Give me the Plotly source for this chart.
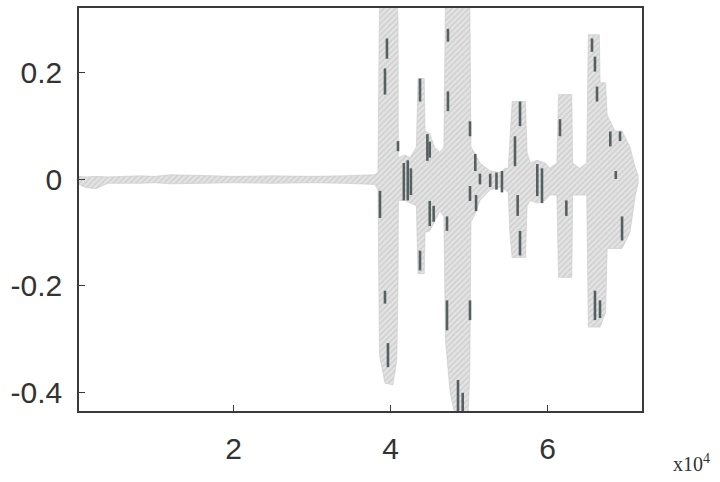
import plotly.graph_objects as go

# ---- data (x in units of 10^4 samples) ----
env_x = [0.03, 0.12, 0.25, 0.40, 0.80, 1.00, 1.20, 1.60, 2.00, 2.50, 3.00, 3.40, 3.60, 3.80, 3.84,
         3.86, 3.93, 4.03, 4.08, 4.096, 4.10,
         4.185, 4.25, 4.33, 4.35, 4.43, 4.44, 4.50, 4.56, 4.63, 4.68,
         4.70, 4.76, 4.82, 4.99, 5.01, 5.025,
         5.08, 5.14, 5.27, 5.40, 5.46, 5.50,
         5.52, 5.55, 5.72, 5.74, 5.78, 5.87, 5.97, 6.03, 6.12,
         6.14, 6.31, 6.32, 6.41, 6.50,
         6.52, 6.66, 6.67, 6.74, 6.76,
         6.86, 6.95, 7.05, 7.12, 7.16]
env_upper = [0.005, 0.004, 0.005, 0.004, 0.006, 0.005, 0.008, 0.007, 0.005, 0.006, 0.005, 0.006, 0.007, 0.008, 0.012,
             0.34, 0.34, 0.34, 0.34, 0.30, 0.04,
             0.045, 0.04, 0.06, 0.188, 0.188, 0.09, 0.085, 0.06, 0.05, 0.06,
             0.34, 0.34, 0.34, 0.34, 0.34, 0.06,
             0.047, 0.03, 0.015, 0.012, 0.02, 0.02,
             0.08, 0.145, 0.145, 0.05, 0.03, 0.035, 0.03, 0.02, 0.03,
             0.158, 0.158, 0.03, 0.02, 0.03,
             0.27, 0.27, 0.18, 0.18, 0.12,
             0.09, 0.09, 0.06, 0.02, 0.005]
env_lower = [-0.010, -0.016, -0.018, -0.008, -0.008, -0.007, -0.009, -0.008, -0.007, -0.008, -0.007, -0.008, -0.009, -0.010, -0.020,
             -0.33, -0.382, -0.385, -0.34, -0.20, -0.04,
             -0.04, -0.045, -0.05, -0.177, -0.177, -0.10, -0.097, -0.08, -0.06, -0.07,
             -0.30, -0.40, -0.44, -0.44, -0.36, -0.08,
             -0.065, -0.04, -0.02, -0.015, -0.02, -0.025,
             -0.10, -0.147, -0.147, -0.05, -0.04, -0.045, -0.04, -0.03, -0.03,
             -0.184, -0.184, -0.03, -0.03, -0.03,
             -0.277, -0.277, -0.277, -0.25, -0.13,
             -0.13, -0.13, -0.10, -0.03, -0.005]

# dark streaks inside the waveform: x, y from, y to
dark_x = [3.955, 3.93, 4.096, 3.866, 3.93, 3.968,
          4.17, 4.22, 4.26, 4.376, 4.47, 4.50, 4.50, 4.55, 4.376,
          4.732, 4.732, 4.72, 4.72, 5.013, 5.013, 5.013, 4.86, 4.92,
          5.08, 5.09, 5.14, 5.27, 5.35, 5.42,
          5.65, 5.586, 5.62, 5.65, 5.87, 5.93,
          6.159, 6.24,
          6.567, 6.605, 6.631, 6.605, 6.669,
          6.80, 6.924, 6.87, 6.95]
dark_y0 = [0.225, 0.158, 0.052, -0.073, -0.233, -0.352,
           -0.04, -0.04, -0.03, 0.145, 0.034, 0.04, -0.088, -0.08, -0.171,
           0.257, 0.127, -0.097, -0.283, 0.08, -0.041, -0.264, -0.434, -0.434,
           0.015, -0.06, -0.01, -0.015, -0.02, -0.025,
           0.099, 0.024, -0.069, -0.143, -0.032, -0.045,
           0.08, -0.069,
           0.238, 0.201, 0.145, -0.264, -0.26,
           0.061, 0.071, 0.0, -0.115]
dark_y1 = [0.263, 0.207, 0.071, -0.022, -0.209, -0.307,
           0.03, 0.035, 0.02, 0.188, 0.084, 0.07, -0.041, -0.05, -0.134,
           0.281, 0.164, -0.07, -0.227, 0.108, -0.013, -0.227, -0.376, -0.40,
           0.047, -0.03, 0.01, 0.01, 0.012, 0.015,
           0.145, 0.08, -0.03, -0.097, 0.028, 0.02,
           0.112, -0.04,
           0.263, 0.229, 0.173, -0.209, -0.227,
           0.089, 0.089, 0.015, -0.07]

x_tick_vals = [2, 4, 6]
x_tick_text = ["2", "4", "6"]
y_tick_vals = [-0.4, -0.2, 0, 0.2]
y_tick_text = ["-0.4", "-0.2", "0", "0.2"]

# ---- build segments for dark streaks ----
seg_x, seg_y = [], []
for x, a, b in zip(dark_x, dark_y0, dark_y1):
    seg_x += [x, x, None]
    seg_y += [a, b, None]

fig = go.Figure()
fig.add_trace(go.Scatter(x=env_x, y=env_lower, mode="lines",
                         line=dict(width=0, color="#cfcfcf"), showlegend=False,
                         hoverinfo="skip"))
fig.add_trace(go.Scatter(x=env_x, y=env_upper, mode="lines", fill="tonexty",
                         fillcolor="#d6d6d6",
                         fillpattern=dict(shape="/", fgcolor="#bcbcbc", bgcolor="#e4e4e4",
                                          size=4, solidity=0.45),
                         line=dict(width=0.6, color="#c8c8c8"), showlegend=False))
fig.add_trace(go.Scatter(x=env_x, y=env_lower, mode="lines",
                         line=dict(width=0.6, color="#c8c8c8"), showlegend=False))
fig.add_trace(go.Scatter(x=seg_x, y=seg_y, mode="lines",
                         line=dict(width=2.6, color="#566060"), showlegend=False))

axis_common = dict(showline=True, linecolor="#3a3a3a", linewidth=1.5, mirror=True,
                   ticks="inside", ticklen=6, tickcolor="#3a3a3a", showgrid=False,
                   zeroline=False,
                   tickfont=dict(family="Liberation Sans, Arial, sans-serif", size=30,
                                 color="#333333"))

fig.update_layout(
    width=720, height=482,
    margin=dict(l=79, r=78, t=6, b=71),
    paper_bgcolor="white", plot_bgcolor="white",
    xaxis=dict(range=[0.032, 7.204], tickvals=x_tick_vals, ticktext=x_tick_text,
               ticklabelstandoff=10, **axis_common),
    yaxis=dict(range=[-0.434, 0.32], tickvals=y_tick_vals, ticktext=y_tick_text,
               ticklabelstandoff=9, **axis_common),
    annotations=[dict(text="x10<sup>4</sup>", xref="paper", yref="paper",
                      x=1.125, y=-0.165, showarrow=False,
                      font=dict(family="Liberation Serif, Times New Roman, serif",
                                size=20, color="#333333"))],
)

fig.write_html("out.html")
